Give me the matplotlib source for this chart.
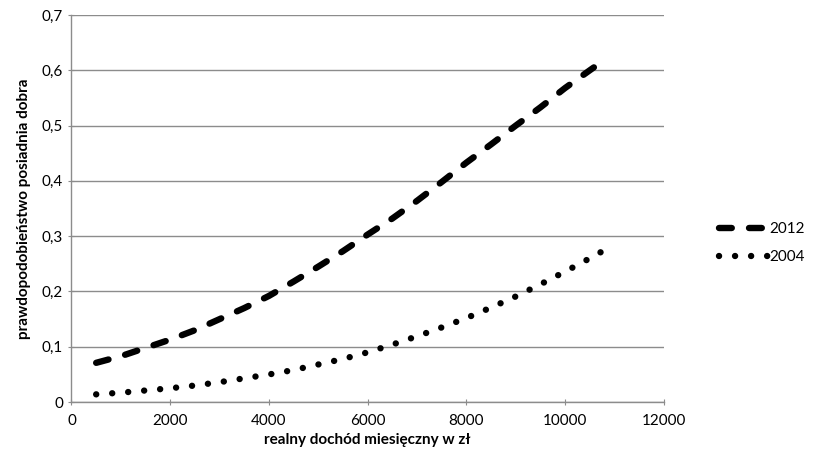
import matplotlib.pyplot as plt
from matplotlib.ticker import FuncFormatter

plt.rcParams['font.family'] = ['Lato', 'DejaVu Sans']

# income levels (zl)
income = [500, 1000, 1500, 2000, 2500, 3000, 3500, 4000, 4500, 5000, 5500,
          6000, 6500, 7000, 7500, 8000, 8500, 9000, 9500, 10000, 10500, 10800]

prob_2012 = [0.071, 0.083, 0.098, 0.113, 0.130, 0.150, 0.170, 0.192, 0.218,
             0.245, 0.273, 0.303, 0.332, 0.364, 0.398, 0.433, 0.466, 0.500,
             0.533, 0.568, 0.600, 0.619]

prob_2004 = [0.014, 0.017, 0.021, 0.025, 0.030, 0.036, 0.043, 0.050, 0.058,
             0.068, 0.078, 0.090, 0.104, 0.119, 0.135, 0.152, 0.171, 0.191,
             0.213, 0.236, 0.260, 0.275]

fig = plt.figure(figsize=(8.16, 4.67), dpi=100)
ax = fig.add_axes([0.0876, 0.139, 0.726, 0.829])

l1, = ax.plot(income, prob_2012, color='black', lw=4.6, label='2012',
              dash_capstyle='round', solid_capstyle='round')
l1.set_dashes((2.0, 2.7))
l2, = ax.plot(income, prob_2004, color='black', lw=4.6, label='2004',
              dash_capstyle='round')
l2.set_dashes((0.01, 2.5))

ax.set_xlim(0, 12000)
ax.set_ylim(0, 0.7)
ax.set_xticks(range(0, 12001, 2000))
ax.set_yticks([i / 10 for i in range(8)])
ax.yaxis.set_major_formatter(FuncFormatter(
    lambda v, p: '0' if v == 0 else ('%.1f' % v).replace('.', ',')))

ax.grid(axis='y', color='#8c8c8c', lw=1)
ax.set_axisbelow(True)
for s in ['top', 'right']:
    ax.spines[s].set_visible(False)
for s in ['left', 'bottom']:
    ax.spines[s].set_color('#8c8c8c')
    ax.spines[s].set_linewidth(1)
ax.tick_params(axis='both', colors='#8c8c8c', labelcolor='black',
               labelsize=11, length=5, direction='inout')
ax.tick_params(axis='x', pad=6)

ax.set_xlabel('realny dochód miesięczny w zł', fontsize=11, fontweight='bold',
              labelpad=4)
ax.set_ylabel('prawdopodobieństwo posiadnia dobra', fontsize=11,
              fontweight='bold', labelpad=8)

ax.legend(loc='center left', bbox_to_anchor=(1.07, 0.41), frameon=False,
          fontsize=11, handlelength=3.2, handletextpad=0.1, labelspacing=0.9)

fig.savefig('out.png', dpi=100)
